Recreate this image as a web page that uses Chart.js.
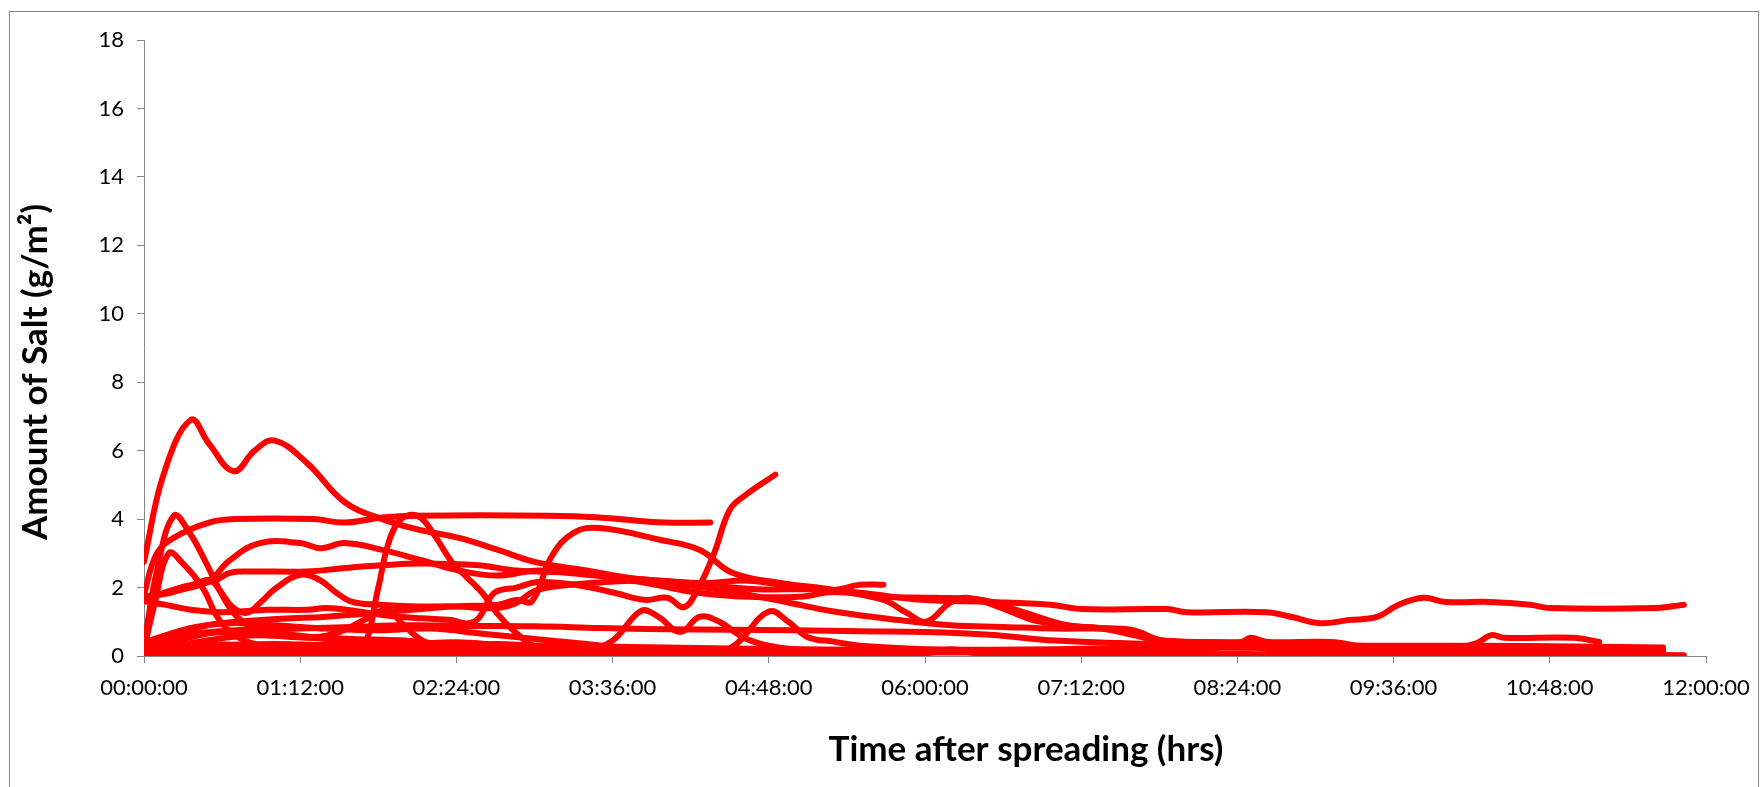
<!DOCTYPE html>
<html>
<head>
<meta charset="utf-8">
<title>Amount of Salt</title>
<script src="https://cdn.jsdelivr.net/npm/chart.js@4.4.1/dist/chart.umd.min.js"></script>
<style>
  html, body { margin: 0; padding: 0; background: #fff; }
  #wrap { width: 1762px; height: 787px; }
</style>
</head>
<body>
<div id="wrap"><canvas id="salt" width="1762" height="787"></canvas></div>
<script>
// ---- data: each run is [hours after spreading, g/m2] ----
const run01 = [[0,2.75],[0.15,5.3],[0.36,6.9],[0.5,6.2],[0.69,5.4],[0.85,6.0],[1.0,6.3],[1.25,5.65],[1.54,4.5],[1.83,4.0],[2.1,3.7],[2.42,3.45],[2.72,3.1],[3.0,2.75],[3.4,2.5],[3.8,2.25],[4.3,2.13],[4.65,2.2],[5.04,2.0],[5.3,1.93],[5.5,2.08],[5.68,2.08]];
const run02 = [[0,1.8],[0.1,3.0],[0.25,3.5],[0.5,3.9],[0.7,4.0],[1.3,4.0],[1.54,3.9],[1.83,4.05],[2.1,4.1],[3.1,4.1],[3.5,4.05],[4.0,3.9],[4.35,3.9]];
const run03 = [[0,0.3],[0.1,2.5],[0.23,4.1],[0.35,3.6],[0.48,2.7],[0.58,1.93],[0.68,1.3],[0.8,0.9],[1.0,0.7],[1.3,0.55],[1.6,0.5],[2.0,0.45],[2.4,0.3],[2.8,0.2],[3.2,0.15]];
const run04 = [[0,0.2],[0.08,1.5],[0.19,3.0],[0.3,2.7],[0.45,2.0],[0.57,1.1],[0.7,0.6],[0.9,0.3],[1.2,0.15],[1.6,0.1],[2.0,0.1]];
const run05 = [[0,1.7],[0.3,1.95],[0.5,2.2],[0.66,2.8],[0.89,3.3],[1.2,3.3],[1.36,3.15],[1.54,3.3],[1.83,3.1],[2.13,2.8],[2.42,2.5],[2.71,2.35],[3.03,2.5],[3.33,2.4],[3.6,2.3],[4.2,2.13],[4.7,1.95],[5.1,1.95],[5.5,1.85],[5.97,1.64],[6.5,1.58],[6.96,1.5],[7.21,1.37],[7.86,1.37],[8.01,1.28],[8.62,1.28],[8.82,1.14],[9.03,0.96],[9.26,1.05],[9.47,1.14],[9.64,1.5],[9.83,1.7],[10.0,1.58],[10.34,1.58],[10.65,1.5],[10.8,1.4],[11.6,1.4],[11.83,1.5]];
const run06 = [[0,1.64],[0.28,2.0],[0.54,2.2],[0.66,2.43],[0.8,2.47],[1.25,2.47],[1.54,2.57],[1.83,2.65],[2.13,2.7],[2.57,2.65],[2.86,2.5],[3.3,2.43],[3.6,2.3],[3.9,2.1],[4.27,1.84],[4.65,1.73],[5.04,1.73],[5.3,1.87],[5.68,1.73],[6.06,1.7],[6.44,1.64],[6.7,1.35],[7.09,0.9],[7.34,0.82],[7.6,0.61],[7.78,0.47],[8.2,0.4],[8.8,0.35],[9.5,0.3],[10.2,0.3],[11.0,0.28],[11.67,0.25]];
const run07 = [[0,0.4],[0.4,0.85],[0.9,1.05],[1.4,1.15],[1.9,1.3],[2.4,1.45],[2.72,1.5],[2.86,1.64],[2.98,1.6],[3.13,2.9],[3.3,3.6],[3.5,3.74],[3.97,3.39],[4.27,3.1],[4.52,2.43],[4.9,2.13],[5.3,1.93],[5.68,1.64],[5.86,1.26],[6.01,1.0],[6.19,1.55],[6.32,1.7],[6.57,1.43],[6.83,1.05],[7.09,0.9],[7.3,0.82],[7.59,0.76],[7.8,0.47],[8.0,0.41],[8.43,0.41],[8.5,0.53],[8.63,0.41],[9.12,0.41],[9.4,0.26],[10.1,0.26],[10.24,0.38],[10.35,0.61],[10.45,0.53],[10.98,0.53],[11.18,0.41]];
const run08 = [[0,0.3],[0.4,0.35],[0.8,0.3],[1.2,0.15],[1.55,0.1],[1.68,0.2],[1.8,2.0],[1.87,3.2],[1.95,3.9],[2.04,4.12],[2.13,4.03],[2.24,3.48],[2.37,2.72],[2.48,2.3],[2.6,1.84],[2.71,1.26],[2.86,0.67],[3.01,0.26],[3.2,0.1],[3.6,0.05],[4.0,0.1]];
const run09 = [[0,1.6],[0.16,1.5],[0.36,1.35],[0.6,1.28],[0.95,1.35],[1.25,1.35],[1.4,1.4],[1.6,1.33],[1.83,1.2],[2.13,1.1],[2.36,1.05],[2.48,0.95],[2.57,1.1],[2.69,1.84],[2.86,2.0],[3.03,2.16],[3.33,2.07],[3.62,1.84],[3.85,1.64],[4.02,1.7],[4.15,1.43],[4.26,2.0],[4.38,3.0],[4.5,4.27],[4.62,4.7],[4.85,5.3]];
const run10 = [[0,0.3],[0.3,0.6],[0.7,0.75],[1.2,0.8],[1.6,0.85],[2.0,0.9],[2.5,0.88],[3.0,0.87],[3.5,0.82],[4.0,0.78],[4.5,0.77],[5.0,0.75],[5.5,0.72],[6.0,0.7],[6.5,0.62],[7.0,0.45],[7.5,0.38],[8.0,0.33],[9.0,0.3],[10.0,0.22],[11.0,0.2],[11.67,0.22]];
const run11 = [[0,0.1],[0.5,0.3],[1.0,0.35],[1.5,0.3],[2.0,0.3],[2.5,0.2],[3.0,0.15],[3.4,0.2],[3.6,0.45],[3.82,1.32],[3.95,1.15],[4.12,0.7],[4.27,1.15],[4.42,1.0],[4.6,0.55],[4.8,0.3],[5.1,0.15]];
const run12 = [[0,0.05],[1,0.1],[2,0.1],[3,0.1],[4.0,0.05],[4.4,0.1],[4.55,0.35],[4.8,1.3],[4.95,1.0],[5.1,0.55],[5.3,0.42],[5.5,0.3],[6.0,0.2],[6.5,0.15],[7,0.1]];
const run13 = [[0,0.2],[0.3,0.5],[0.6,0.7],[1.0,0.6],[1.3,0.55],[1.5,0.7],[1.69,1.05],[1.87,1.35],[1.98,0.96],[2.13,0.47],[2.3,0.25],[2.7,0.35],[3.0,0.3],[3.3,0.35],[3.6,0.25],[4.0,0.15]];
const run14 = [[0,0.2],[0.3,0.7],[0.6,0.95],[1.0,0.9],[1.4,0.8],[1.8,0.75],[2.2,0.8],[2.6,0.65],[3.0,0.5],[3.4,0.35],[3.8,0.2],[4.5,0.15],[5.5,0.1],[6.5,0.1],[7.5,0.05],[8.5,0.05]];
const run15 = [[0,0.1],[0.4,0.4],[0.8,0.6],[1.2,0.55],[1.6,0.45],[2.0,0.35],[2.4,0.4],[2.8,0.3],[3.2,0.25],[3.6,0.2],[4.2,0.15],[5.0,0.1]];
const run16 = [[0,0.05],[1,0.05],[2,0.08],[3,0.05],[4,0.05],[5,0.05],[6,0.08],[6.2,0.2],[6.4,0.08],[7,0.05],[8,0.05],[9,0.05],[10,0.05],[11,0.05],[11.83,0.02]];
const run17 = [[0,0.15],[1,0.18],[2,0.2],[3,0.2],[4,0.15],[5,0.12],[6,0.12],[7,0.15],[8,0.15],[8.45,0.3],[8.7,0.18],[9.5,0.15],[10.5,0.15],[11.67,0.15]];
const run18 = [[0,1.73],[0.22,1.87],[0.41,2.13],[0.51,2.22],[0.58,1.93],[0.68,1.43],[0.79,1.26],[0.89,1.55],[1.02,2.0],[1.2,2.37],[1.35,2.22],[1.48,1.84],[1.6,1.58],[1.8,1.5],[2.12,1.45],[2.4,1.45],[2.7,1.4],[2.86,1.55],[3.0,1.9],[3.2,2.05],[3.5,2.15],[3.8,2.2],[4.0,2.15],[4.4,1.95],[4.9,1.6],[5.3,1.3],[5.8,1.05],[6.2,0.9],[6.6,0.85],[7.0,0.8],[7.47,0.79],[7.67,0.67],[7.75,0.47],[8.2,0.4],[9,0.35]];
const run19 = [[0,0.25],[1,0.3],[2,0.35],[3,0.3],[4,0.25],[5,0.2],[6,0.18],[7,0.2],[8,0.25],[9,0.22],[10,0.18],[11,0.2],[11.3,0.18]];

const runs = [run01, run02, run03, run04, run05, run06, run07, run08, run09, run10,
              run11, run12, run13, run14, run15, run16, run17, run18, run19];

const tickHours = [0, 1.2, 2.4, 3.6, 4.8, 6, 7.2, 8.4, 9.6, 10.8, 12];
const tickLabels = ['00:00:00', '01:12:00', '02:24:00', '03:36:00', '04:48:00', '06:00:00',
                    '07:12:00', '08:24:00', '09:36:00', '10:48:00', '12:00:00'];
const yTitle = 'Amount of Salt (g/m²)';
const xTitle = 'Time after spreading (hrs)';

const AXIS_GREY = '#868686';

// frame + axis titles (Excel puts the x title off-centre, so draw them here)
const frameAndTitles = {
    id: 'frameAndTitles',
    beforeDraw(chart) {
        const { ctx } = chart;
        ctx.save();
        ctx.fillStyle = '#fff';
        ctx.fillRect(0, 0, chart.width, chart.height);
        ctx.strokeStyle = AXIS_GREY;
        ctx.lineWidth = 1;
        ctx.strokeRect(9.5, 11.5, 1749, 800);
        ctx.restore();
    },
    afterDraw(chart) {
        const { ctx } = chart;
        ctx.save();
        ctx.fillStyle = '#000';
        ctx.font = 'bold 35px Lato';
        ctx.textAlign = 'center';
        ctx.textBaseline = 'middle';
        ctx.fillText(xTitle, 1026, 750);
        ctx.translate(36, 372);
        ctx.rotate(-Math.PI / 2);
        ctx.fillText(yTitle, 0, 0);
        ctx.restore();
    }
};

const datasets = runs.map((run, i) => ({
    label: 'Run ' + (i + 1),
    data: run.map(p => ({ x: p[0], y: p[1] })),
    borderColor: '#ff0000',
    borderWidth: 6,
    borderCapStyle: 'round',
    borderJoinStyle: 'round',
    pointRadius: 0,
    tension: 0.4,
    fill: false
}));

new Chart(document.getElementById('salt'), {
    type: 'line',
    data: { datasets },
    options: {
        responsive: false,
        animation: false,
        devicePixelRatio: 1,
        layout: { padding: { left: 0, top: 40, right: 56, bottom: 0 } },
        plugins: { legend: { display: false }, tooltip: { enabled: false } },
        scales: {
            x: {
                type: 'linear',
                min: 0,
                max: 12,
                afterFit: s => { s.height = 131; },
                afterBuildTicks: s => { s.ticks = tickHours.map(v => ({ value: v })); },
                ticks: {
                    autoSkip: false,
                    maxRotation: 0,
                    padding: 12,
                    color: '#000',
                    font: { family: 'Lato', size: 22 },
                    callback: (v, i) => tickLabels[i]
                },
                grid: { drawOnChartArea: false, drawTicks: true, tickLength: 7, color: AXIS_GREY },
                border: { display: true, color: AXIS_GREY, width: 1 }
            },
            y: {
                min: 0,
                max: 18,
                afterFit: s => { s.width = 144; },
                ticks: {
                    stepSize: 2,
                    padding: 13,
                    color: '#000',
                    font: { family: 'Lato', size: 22 }
                },
                grid: { drawOnChartArea: false, drawTicks: true, tickLength: 7, color: AXIS_GREY },
                border: { display: true, color: AXIS_GREY, width: 1 }
            }
        }
    },
    plugins: [frameAndTitles]
});
</script>
</body>
</html>
